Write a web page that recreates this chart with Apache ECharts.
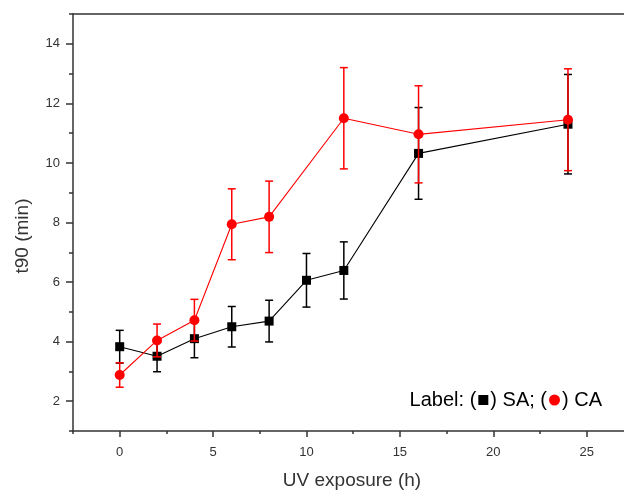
<!DOCTYPE html>
<html>
<head>
<meta charset="utf-8">
<script src="https://cdn.jsdelivr.net/npm/echarts@6/dist/echarts.min.js"></script>
<style>
  html, body { margin: 0; padding: 0; background: #fff; }
  #chart { width: 624px; height: 491px; }
</style>
</head>
<body>
<div id="chart"></div>
<script>
// t90 versus UV exposure time, mean ± deviation
const saHours = [0, 2, 4, 6, 8, 10, 12, 16, 24];
const saMean  = [3.83, 3.51, 4.10, 4.50, 4.69, 6.06, 6.39, 10.32, 11.30];
const saErr   = [0.55, 0.52, 0.64, 0.68, 0.70, 0.90, 0.96, 1.54, 1.67];

const caHours = [0, 2, 4, 6, 8, 12, 16, 24];
const caMean  = [2.88, 4.04, 4.72, 7.94, 8.19, 11.50, 10.96, 11.45];
const caErr   = [0.41, 0.55, 0.70, 1.19, 1.20, 1.70, 1.63, 1.71];

const xMajorTicks = [0, 5, 10, 15, 20, 25];
const xMinorTicks = [-2.5, 2.5, 7.5, 12.5, 17.5, 22.5];
const yMajorTicks = [2, 4, 6, 8, 10, 12, 14];
const yMinorTicks = [1, 3, 5, 7, 9, 11, 13, 15];

const FONT = '"Liberation Sans", Arial, sans-serif';
const AXIS_COLOR = '#333';

function points(xs, ys) {
  return xs.map((x, i) => [x, ys[i]]);
}
function ranges(xs, ys, es) {
  return xs.map((x, i) => [x, ys[i] - es[i], ys[i] + es[i]]);
}

// vertical whisker with caps at both ends
function errorBar(color) {
  return function (params, api) {
    const x = api.value(0);
    const lo = api.coord([x, api.value(1)]);
    const hi = api.coord([x, api.value(2)]);
    const half = 4;
    const style = { stroke: color, lineWidth: 1.5 };
    return {
      type: 'group',
      children: [
        { type: 'line', shape: { x1: lo[0], y1: lo[1], x2: hi[0], y2: hi[1] }, style: style },
        { type: 'line', shape: { x1: lo[0] - half, y1: lo[1], x2: lo[0] + half, y2: lo[1] }, style: style },
        { type: 'line', shape: { x1: hi[0] - half, y1: hi[1], x2: hi[0] + half, y2: hi[1] }, style: style }
      ]
    };
  };
}

const tickLine = { color: AXIS_COLOR, width: 1.5 };

const chart = echarts.init(document.getElementById('chart'), null, { renderer: 'canvas' });
chart.setOption({
  animation: false,
  backgroundColor: '#fff',
  grid: { left: 73, right: 0, top: 14, bottom: 60, containLabel: false },
  xAxis: [
    {
      type: 'value', min: -2.5, max: 27, position: 'bottom',
      axisLine: { show: true, onZero: false, lineStyle: tickLine },
      axisTick: { show: true, customValues: xMajorTicks, length: 6, lineStyle: tickLine },
      axisLabel: { show: true, customValues: xMajorTicks, margin: 15, fontSize: 13, color: AXIS_COLOR, fontFamily: FONT },
      splitLine: { show: false }
    },
    {
      type: 'value', min: -2.5, max: 27, position: 'bottom',
      axisLine: { show: false, onZero: false },
      axisTick: { show: true, customValues: xMinorTicks, length: 3, lineStyle: tickLine },
      axisLabel: { show: false },
      splitLine: { show: false }
    },
    {
      type: 'value', min: -2.5, max: 27, position: 'top',
      axisLine: { show: true, onZero: false, lineStyle: tickLine },
      axisTick: { show: false },
      axisLabel: { show: false },
      splitLine: { show: false }
    }
  ],
  yAxis: [
    {
      type: 'value', min: 1, max: 15, position: 'left',
      axisLine: { show: true, onZero: false, lineStyle: tickLine },
      axisTick: { show: true, customValues: yMajorTicks, length: 7, lineStyle: tickLine },
      axisLabel: { show: true, customValues: yMajorTicks, margin: 13, fontSize: 13, color: AXIS_COLOR, fontFamily: FONT },
      splitLine: { show: false }
    },
    {
      type: 'value', min: 1, max: 15, position: 'left',
      axisLine: { show: false, onZero: false },
      axisTick: { show: true, customValues: yMinorTicks, length: 4, lineStyle: tickLine },
      axisLabel: { show: false },
      splitLine: { show: false }
    }
  ],
  series: [
    {
      name: 'SA error', type: 'custom', xAxisIndex: 0, yAxisIndex: 0,
      renderItem: errorBar('#000'),
      encode: { x: 0, y: [1, 2] },
      data: ranges(saHours, saMean, saErr), z: 2
    },
    {
      name: 'SA', type: 'line', xAxisIndex: 0, yAxisIndex: 0,
      data: points(saHours, saMean),
      symbol: 'rect', symbolSize: 9,
      itemStyle: { color: '#000' },
      lineStyle: { color: '#000', width: 1.1 },
      z: 3
    },
    {
      name: 'CA error', type: 'custom', xAxisIndex: 0, yAxisIndex: 0,
      renderItem: errorBar('#ff0000'),
      encode: { x: 0, y: [1, 2] },
      data: ranges(caHours, caMean, caErr), z: 4
    },
    {
      name: 'CA', type: 'line', xAxisIndex: 0, yAxisIndex: 0,
      data: points(caHours, caMean),
      symbol: 'circle', symbolSize: 10,
      itemStyle: { color: '#ff0000' },
      lineStyle: { color: '#ff0000', width: 1.1 },
      z: 5
    }
  ],
  graphic: [
    {
      type: 'text', x: 23, y: 236, rotation: Math.PI / 2,
      style: { text: 't90 (min)', fill: AXIS_COLOR, fontSize: 19, fontFamily: FONT, align: 'center', verticalAlign: 'middle' }
    },
    {
      type: 'text', x: 352, y: 481,
      style: { text: 'UV exposure (h)', fill: AXIS_COLOR, fontSize: 19, fontFamily: FONT, align: 'center', verticalAlign: 'middle' }
    },
    {
      type: 'text', x: 602, y: 400,
      style: {
        text: 'Label: ({g| }{sq| }{g| }) SA; ({g| }{ci| }{g| }) CA',
        fill: '#000', fontSize: 20, fontFamily: FONT, align: 'right', verticalAlign: 'middle',
        rich: {
          g: { width: 2, fontSize: 10 },
          sq: { width: 10, height: 10, backgroundColor: '#000', fontSize: 10 },
          ci: { width: 11, height: 11, borderRadius: 5.5, backgroundColor: '#ff0000', fontSize: 10 }
        }
      }
    }
  ]
});
</script>
</body>
</html>
